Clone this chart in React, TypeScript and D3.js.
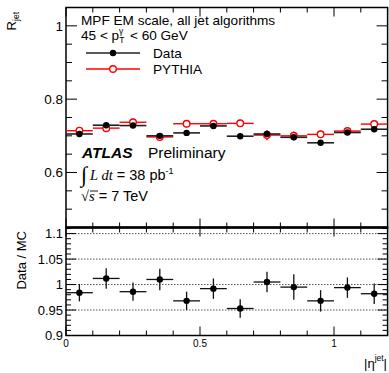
import React from "react";
import * as d3 from "d3";

const binCenters = [0.05, 0.15, 0.25, 0.35, 0.45, 0.55, 0.65, 0.75, 0.85, 0.95, 1.05, 1.15];
const binHalfWidth = 0.05;
const dataR = [0.705, 0.729, 0.728, 0.7, 0.708, 0.727, 0.699, 0.705, 0.696, 0.681, 0.709, 0.718];
const dataErr = [0.006, 0.006, 0.006, 0.006, 0.006, 0.006, 0.006, 0.006, 0.008, 0.007, 0.006, 0.006];
const pythiaR = [0.714, 0.721, 0.737, 0.697, 0.733, 0.733, 0.734, 0.702, 0.7, 0.704, 0.713, 0.732];
const pythiaErr = [0.01, 0.01, 0.01, 0.01, 0.01, 0.01, 0.01, 0.014, 0.012, 0.01, 0.01, 0.01];
const ratio = [0.984, 1.012, 0.986, 1.01, 0.968, 0.992, 0.953, 1.005, 0.995, 0.968, 0.994, 0.982];
const ratioErr = [0.017, 0.02, 0.018, 0.021, 0.018, 0.02, 0.018, 0.02, 0.025, 0.021, 0.02, 0.02];
const topTickLabels = [0.6, 0.8, 1];
const ratioTickLabels = [0.9, 0.95, 1, 1.05, 1.1];
const ratioGrid = [0.95, 1, 1.05, 1.1];
const xTickLabels = [0, 0.5, 1];

const FONT = "'Liberation Sans', Arial, Helvetica, sans-serif";
const SERIF = "'Liberation Serif', 'Times New Roman', serif";

export default function App() {
  const W = 389, H = 373;
  const left = 66, right = 387.6;
  const x = d3.scaleLinear().domain([0, 1.2]).range([left, right]);
  const yTop = d3.scaleLinear().domain([0.45, 1.05]).range([227.5, 7.5]);
  const yRat = d3.scaleLinear().domain([0.9, 1.112]).range([335.5, 227.5]);

  const xMinor = d3.range(0, 1.2001, 0.1);
  const topMinor = d3.range(0.45, 1.0501, 0.05);
  const ratMinor = d3.range(0.9, 1.1101, 0.01);
  const isMajorX = (v: number) => Math.abs(v * 2 - Math.round(v * 2)) < 1e-6;
  const isMajorTop = (v: number) => Math.abs(v * 5 - Math.round(v * 5)) < 1e-6;
  const isMajorRat = (v: number) => Math.abs(v * 20 - Math.round(v * 20)) < 1e-6;

  const fmt = (v: number) => (Math.abs(v - 1) < 1e-9 ? "1" : String(+v.toFixed(2)));

  const xTicks = (y0: number, dir: number, key: string) =>
    xMinor.map((v, i) => (
      <line key={key + i} x1={x(v)} x2={x(v)} y1={y0} y2={y0 + dir * (isMajorX(v) ? 9 : 5)} stroke="#000" strokeWidth={1} />
    ));

  return (
    <svg width={W} height={H} style={{ position: "absolute", left: 0, top: 0 }} fontFamily={FONT}>
      <rect x={0} y={0} width={W} height={H} fill="#fff" />
      {ratioGrid.map((v, i) => (
        <line key={"g" + i} x1={left} x2={right} y1={yRat(v)} y2={yRat(v)} stroke="#555" strokeWidth={1} strokeDasharray="1.5,1.5" />
      ))}
      <rect x={left} y={yTop(1.05)} width={right - left} height={yTop(0.45) - yTop(1.05)} fill="none" stroke="#000" strokeWidth={1.5} />
      <rect x={left} y={yRat(1.112)} width={right - left} height={yRat(0.9) - yRat(1.112)} fill="none" stroke="#000" strokeWidth={1.5} />
      <line x1={left} x2={right} y1={227.5} y2={227.5} stroke="#000" strokeWidth={2.5} />

      {topMinor.map((v, i) => (
        <g key={"ty" + i}>
          <line x1={left} x2={left + (isMajorTop(v) ? 11 : 6)} y1={yTop(v)} y2={yTop(v)} stroke="#000" />
          <line x1={right} x2={right - (isMajorTop(v) ? 11 : 6)} y1={yTop(v)} y2={yTop(v)} stroke="#000" />
        </g>
      ))}
      {topTickLabels.map((v, i) => (
        <text key={"tl" + i} x={left - 3} y={yTop(v)} dy="0.36em" textAnchor="end" fontSize={13.5}>{fmt(v)}</text>
      ))}
      {xTicks(yTop(1.05), 1, "tt")}
      {xTicks(227.5, -1, "tb")}

      {ratMinor.map((v, i) => (
        <g key={"ry" + i}>
          <line x1={left} x2={left + (isMajorRat(v) ? 10 : 5)} y1={yRat(v)} y2={yRat(v)} stroke="#000" />
          <line x1={right} x2={right - (isMajorRat(v) ? 10 : 5)} y1={yRat(v)} y2={yRat(v)} stroke="#000" />
        </g>
      ))}
      {ratioTickLabels.map((v, i) => (
        <text key={"rl" + i} x={left - 3} y={yRat(v)} dy="0.36em" textAnchor="end" fontSize={13}>{fmt(v)}</text>
      ))}
      {xTicks(227.5, 1, "rt")}
      {xTicks(yRat(0.9), -1, "rb")}
      {xTickLabels.map((v, i) => (
        <text key={"xl" + i} x={x(v)} y={yRat(0.9) + 11} textAnchor="middle" fontSize={10}>{fmt(v)}</text>
      ))}

      {binCenters.map((c, i) => (
        <g key={"p" + i} stroke="#ff0000" strokeWidth={1.4}>
          <line x1={x(c - binHalfWidth)} x2={x(c + binHalfWidth)} y1={yTop(pythiaR[i])} y2={yTop(pythiaR[i])} />
          <line x1={x(c)} x2={x(c)} y1={yTop(pythiaR[i] - pythiaErr[i])} y2={yTop(pythiaR[i] + pythiaErr[i])} />
          <circle cx={x(c)} cy={yTop(pythiaR[i])} r={3.3} fill="#fff" />
        </g>
      ))}
      {binCenters.map((c, i) => (
        <g key={"d" + i} stroke="#222" strokeWidth={1.6}>
          <line x1={x(c - binHalfWidth)} x2={x(c + binHalfWidth)} y1={yTop(dataR[i])} y2={yTop(dataR[i])} />
          <line x1={x(c)} x2={x(c)} y1={yTop(dataR[i] - dataErr[i])} y2={yTop(dataR[i] + dataErr[i])} />
          <circle cx={x(c)} cy={yTop(dataR[i])} r={3.2} fill="#000" stroke="none" />
        </g>
      ))}
      {binCenters.map((c, i) => (
        <g key={"r" + i} stroke="#111" strokeWidth={1.3}>
          <line x1={x(c - binHalfWidth)} x2={x(c + binHalfWidth)} y1={yRat(ratio[i])} y2={yRat(ratio[i])} />
          <line x1={x(c)} x2={x(c)} y1={yRat(ratio[i] - ratioErr[i])} y2={yRat(ratio[i] + ratioErr[i])} />
          <circle cx={x(c)} cy={yRat(ratio[i])} r={3.2} fill="#000" stroke="none" />
        </g>
      ))}

      <text x={81} y={24.5} fontSize={13.6}>MPF EM scale, all jet algorithms</text>
      <text x={81} y={39.5} fontSize={13.6}>
        45 &lt; p
        <tspan dx={0} dy={3.5} fontSize={8.5}>T</tspan>
        <tspan dx={-5.5} dy={-9} fontSize={8.5}>γ</tspan>
        <tspan dx={3} dy={5.5}> &lt; 60 GeV</tspan>
      </text>
      <line x1={86} x2={140} y1={53} y2={53} stroke="#222" strokeWidth={1.6} />
      <circle cx={113} cy={53} r={3.2} fill="#000" />
      <text x={153} y={57.5} fontSize={13.6}>Data</text>
      <line x1={86} x2={140} y1={69} y2={69} stroke="#ff0000" strokeWidth={1.4} />
      <circle cx={113} cy={69} r={3.3} fill="#fff" stroke="#ff0000" strokeWidth={1.4} />
      <text x={153} y={73.5} fontSize={13.6}>PYTHIA</text>

      <text x={82} y={157.5} fontSize={15.5} fontWeight="bold" fontStyle="italic">ATLAS</text>
      <text x={148} y={157.5} fontSize={15.5}>Preliminary</text>
      <text x={81} y={180} fontSize={14.5}>
        <tspan fontFamily={SERIF} fontSize={22} dy={2}>∫</tspan>
        <tspan fontFamily={SERIF} fontStyle="italic" dx={3} dy={-2}>L dt</tspan>
        <tspan> = 38 pb</tspan>
        <tspan fontSize={9} dy={-6}>-1</tspan>
      </text>
      <line x1={90} x2={98} y1={191} y2={191} stroke="#000" strokeWidth={0.9} />
      <text x={81} y={201} fontSize={14.5}>
        <tspan fontFamily={SERIF}>√</tspan>
        <tspan fontFamily={SERIF} fontStyle="italic">s</tspan>
        <tspan> = 7 TeV</tspan>
      </text>

      <text transform="translate(16,12) rotate(-90)" textAnchor="end" fontSize={13}>
        R<tspan fontSize={8.5} dy={3}>jet</tspan>
      </text>
      <text transform="translate(26,231) rotate(-90)" textAnchor="end" fontSize={13}>Data / MC</text>
      <text x={387} y={368} textAnchor="end" fontSize={13}>
        |η<tspan fontSize={8.5} dy={-7}>jet</tspan><tspan dy={7}>|</tspan>
      </text>
    </svg>
  );
}
